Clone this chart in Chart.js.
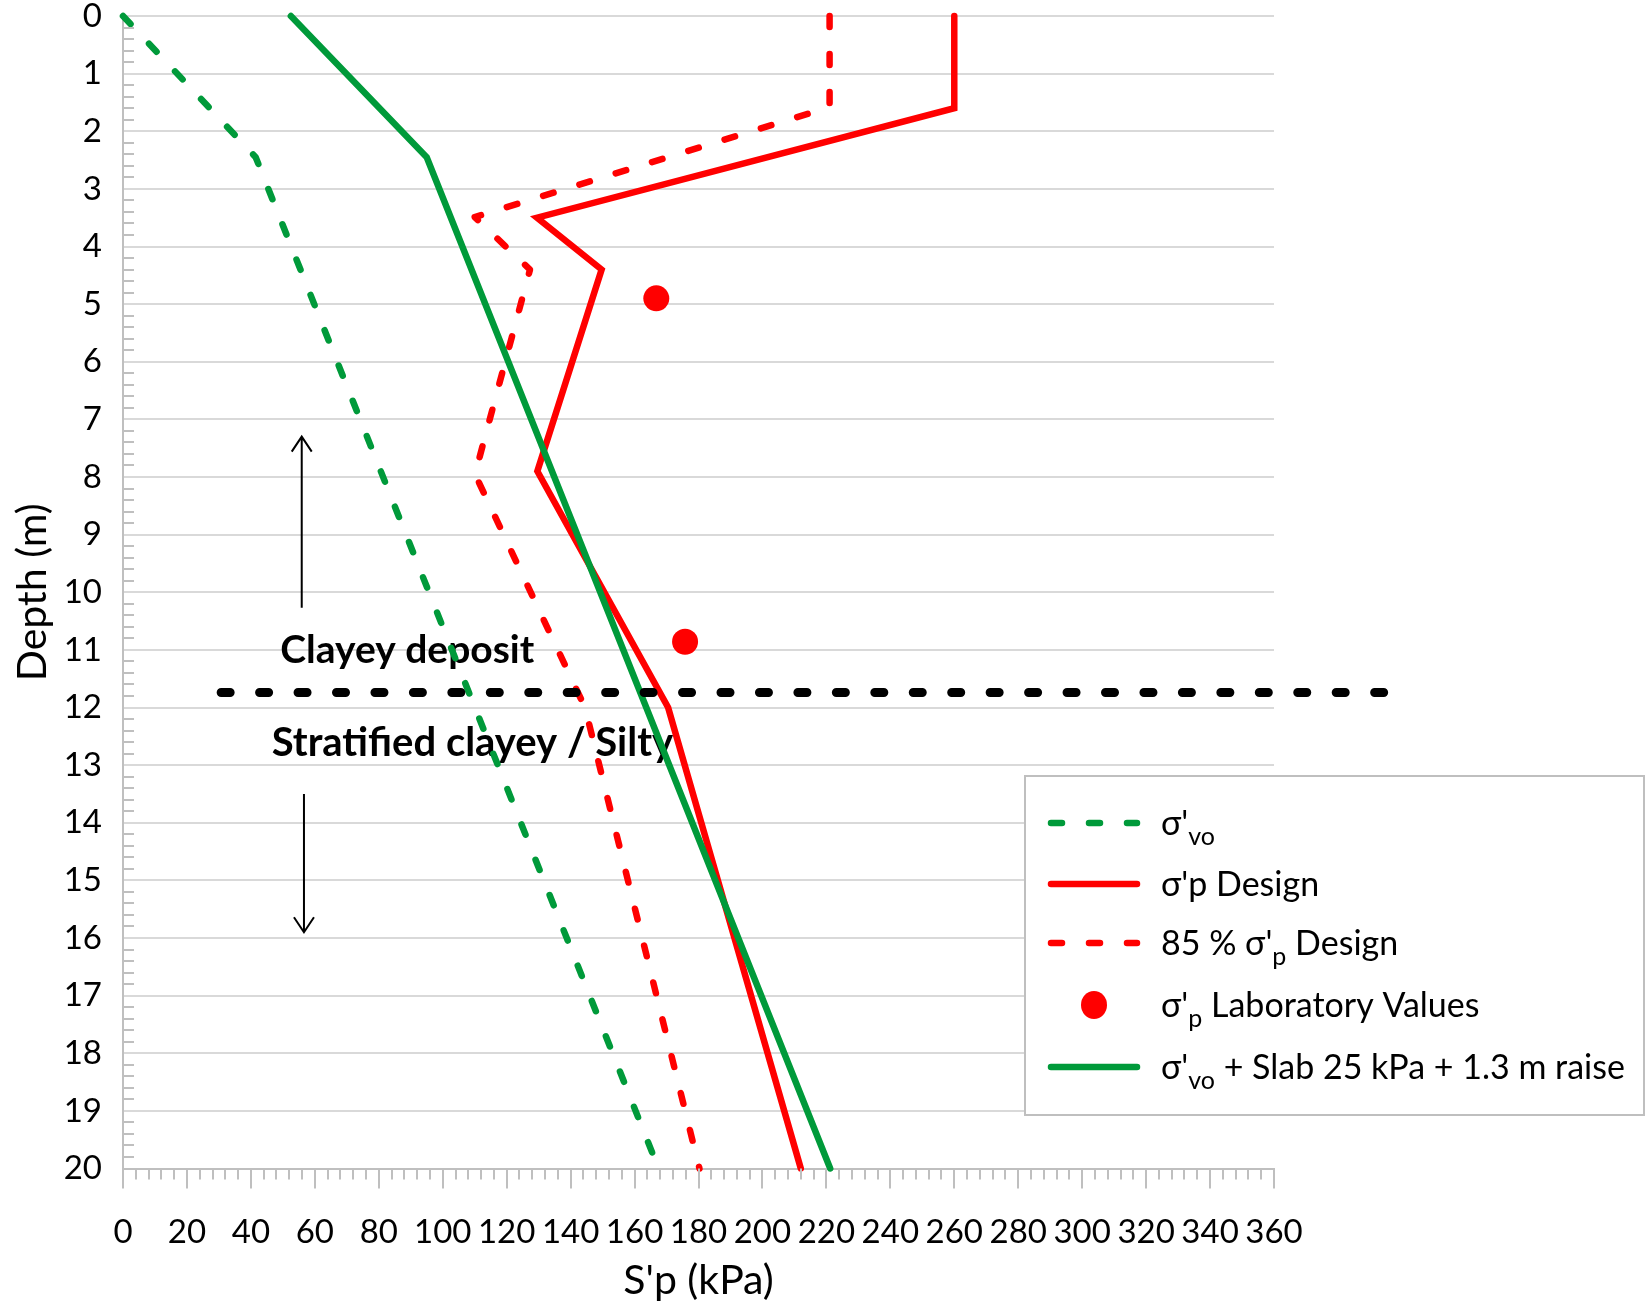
<!DOCTYPE html>
<html>
<head>
<meta charset="utf-8">
<script src="https://cdn.jsdelivr.net/npm/chart.js@4.4.1/dist/chart.umd.min.js"></script>
<style>
  html, body { margin: 0; padding: 0; background: #ffffff; }
  #wrap { position: relative; width: 1649px; height: 1303px; }
</style>
</head>
<body>
<div id="wrap"><canvas id="profile" width="1649" height="1303"></canvas></div>
<script>
// ---- Profile data: depth (m) against stress (kPa) ----
const effVertDepth   = [0, 2.45, 20];
const effVertStress  = [0, 41.5, 167.5];

const designDepth    = [0, 1.6, 3.5, 4.4, 7.9, 12, 20];
const designStress   = [260, 260, 129.5, 149.7, 129.6, 170.5, 212];

const design85Depth  = [0, 1.58, 3.49, 4.4, 7.95, 12, 20];
const design85Stress = [221, 221, 110, 127.3, 110.1, 144.5, 180.3];

const labDepth       = [4.9, 10.86];
const labStress      = [166.8, 175.8];

const loadedDepth    = [0, 2.45, 20];
const loadedStress   = [52.5, 95, 221.2];

// layer boundary between the clayey deposit and the stratified soils
const boundaryDepth  = [11.74, 11.74];
const boundaryStress = [30.7, 394.4];

// ---- Axis ticks ----
const xTickValues = [0, 20, 40, 60, 80, 100, 120, 140, 160, 180, 200, 220, 240, 260, 280, 300, 320, 340, 360];
const yTickValues = [0, 1, 2, 3, 4, 5, 6, 7, 8, 9, 10, 11, 12, 13, 14, 15, 16, 17, 18, 19, 20];

// ---- Layer annotations ----
const layerNames     = ['Clayey deposit', 'Stratified clayey / Silty'];
const layerNameX     = [88.9, 109.3];
const layerNameDepth = [11.22, 12.85];
const layerNameSize  = [39, 40];
const arrowX         = [55.9, 56.6];
const arrowFrom      = [10.27, 13.5];
const arrowTo        = [7.3, 15.9];

// ---- Legend entries (text runs: [text, isSubscript]) ----
const legendRuns = [
  [["σ'", 0], ["vo", 1]],
  [["σ'p Design", 0]],
  [["85 % σ'", 0], ["p", 1], [" Design", 0]],
  [["σ'", 0], ["p", 1], [" Laboratory Values", 0]],
  [["σ'", 0], ["vo", 1], [" + Slab 25 kPa + 1.3 m raise", 0]]
];

const GREEN = '#009A3A';
const RED = '#FF0000';
const FONT = 'Lato';
const LINE_W = 6.5;
const DASH = [11, 27];

const pts = (xs, ys) => xs.map((v, i) => ({ x: v, y: ys[i] }));

// minor tick marks along both axes (0.2 m and 4 kPa), major marks every 20 kPa
const minorTicks = {
  id: 'minorTicks',
  afterDraw(chart) {
    const { ctx, chartArea: a, scales: { x, y } } = chart;
    ctx.save();
    ctx.strokeStyle = '#BFBFBF';
    ctx.lineWidth = 2;
    ctx.beginPath();
    for (let i = 1; i < 100; i++) {
      if (i % 5 === 0) continue;
      const py = Math.round(y.getPixelForValue(i * 0.2));
      ctx.moveTo(a.left, py);
      ctx.lineTo(a.left + 11, py);
    }
    for (let i = 0; i <= 90; i++) {
      const px = Math.round(x.getPixelForValue(i * 4));
      const len = i % 5 === 0 ? 20 : 11;
      ctx.moveTo(px, a.bottom);
      ctx.lineTo(px, a.bottom + len);
    }
    ctx.stroke();
    ctx.restore();
  }
};

// soil layer names and extent arrows
const layerNotes = {
  id: 'layerNotes',
  beforeDatasetsDraw(chart) {
    const { ctx, scales: { x, y } } = chart;
    ctx.save();
    ctx.fillStyle = '#000';
    ctx.textAlign = 'center';
    ctx.textBaseline = 'alphabetic';
    layerNames.forEach((t, i) => {
      ctx.font = `bold ${layerNameSize[i]}px ${FONT}`;
      ctx.fillText(t, x.getPixelForValue(layerNameX[i]), y.getPixelForValue(layerNameDepth[i]));
    });
    ctx.strokeStyle = '#000';
    ctx.lineWidth = 2;
    arrowX.forEach((v, i) => {
      const px = x.getPixelForValue(v);
      const y0 = y.getPixelForValue(arrowFrom[i]);
      const y1 = y.getPixelForValue(arrowTo[i]);
      const dir = y1 < y0 ? 1 : -1;
      ctx.beginPath();
      ctx.moveTo(px, y0);
      ctx.lineTo(px, y1);
      ctx.moveTo(px - 10, y1 + dir * 15);
      ctx.lineTo(px, y1);
      ctx.lineTo(px + 10, y1 + dir * 15);
      ctx.stroke();
    });
    ctx.restore();
  }
};

// framed legend placed over the lower right of the plot
const sideLegend = {
  id: 'sideLegend',
  afterDraw(chart) {
    const { ctx } = chart;
    const box = { l: 1025, t: 776, r: 1644, b: 1115 };
    const rowY = [823, 884, 943, 1005, 1067];
    const swL = 1048, swR = 1140, textX = 1161;
    const styles = [
      { type: 'line', color: GREEN, dash: DASH },
      { type: 'line', color: RED, dash: [] },
      { type: 'line', color: RED, dash: DASH },
      { type: 'dot', color: RED },
      { type: 'line', color: GREEN, dash: [] }
    ];
    ctx.save();
    ctx.fillStyle = '#fff';
    ctx.fillRect(box.l, box.t, box.r - box.l, box.b - box.t);
    ctx.strokeStyle = '#BFBFBF';
    ctx.lineWidth = 2;
    ctx.strokeRect(box.l, box.t, box.r - box.l, box.b - box.t);
    styles.forEach((s, i) => {
      const yy = rowY[i];
      if (s.type === 'line') {
        ctx.strokeStyle = s.color;
        ctx.lineWidth = LINE_W;
        ctx.lineCap = 'round';
        ctx.setLineDash(s.dash);
        ctx.beginPath();
        ctx.moveTo(swL + 3, yy);
        ctx.lineTo(swR - 3, yy);
        ctx.stroke();
        ctx.setLineDash([]);
      } else {
        ctx.fillStyle = s.color;
        ctx.beginPath();
        ctx.ellipse((swL + swR) / 2, yy, 13, 14, 0, 0, Math.PI * 2);
        ctx.fill();
      }
      let cx = textX;
      ctx.fillStyle = '#000';
      ctx.textAlign = 'left';
      ctx.textBaseline = 'alphabetic';
      legendRuns[i].forEach(([txt, sub]) => {
        ctx.font = sub ? `25px ${FONT}` : `34px ${FONT}`;
        ctx.fillText(txt, cx, yy + 12 + (sub ? 10 : 0));
        cx += ctx.measureText(txt).width;
      });
    });
    ctx.restore();
  }
};

new Chart(document.getElementById('profile'), {
  type: 'scatter',
  data: {
    datasets: [
      {
        label: 'Layer boundary',
        data: pts(boundaryStress, boundaryDepth),
        showLine: true, borderColor: '#000', borderWidth: 9,
        borderDash: [9, 29.45], borderCapStyle: 'round',
        pointRadius: 0, clip: false, order: 0
      },
      {
        label: "σ'vo + Slab 25 kPa + 1.3 m raise",
        data: pts(loadedStress, loadedDepth),
        showLine: true, borderColor: GREEN, borderWidth: LINE_W,
        borderCapStyle: 'round', borderJoinStyle: 'miter',
        pointRadius: 0, clip: false, order: 1
      },
      {
        label: "σ'p Laboratory Values",
        data: pts(labStress, labDepth),
        showLine: false, backgroundColor: RED, borderWidth: 0,
        pointRadius: 13, pointStyle: 'circle', clip: false, order: 2
      },
      {
        label: "σ'p Design",
        data: pts(designStress, designDepth),
        showLine: true, borderColor: RED, borderWidth: LINE_W,
        borderCapStyle: 'round', borderJoinStyle: 'miter',
        pointRadius: 0, clip: false, order: 3
      },
      {
        label: "85 % σ'p Design",
        data: pts(design85Stress, design85Depth),
        showLine: true, borderColor: RED, borderWidth: LINE_W,
        borderDash: DASH, borderCapStyle: 'round', borderJoinStyle: 'round',
        pointRadius: 0, clip: false, order: 4
      },
      {
        label: "σ'vo",
        data: pts(effVertStress, effVertDepth),
        showLine: true, borderColor: GREEN, borderWidth: LINE_W,
        borderDash: DASH, borderCapStyle: 'round', borderJoinStyle: 'round',
        pointRadius: 0, clip: false, order: 5
      }
    ]
  },
  options: {
    responsive: false,
    animation: false,
    devicePixelRatio: 1,
    events: [],
    layout: { padding: { left: 0, top: 16, right: 375, bottom: 0 } },
    plugins: { legend: { display: false }, tooltip: { enabled: false } },
    scales: {
      x: {
        type: 'linear', position: 'bottom', min: 0, max: 360,
        afterBuildTicks: s => { s.ticks = xTickValues.map(v => ({ value: v })); },
        afterFit: s => { s.height = 134.5; s.paddingLeft = 0; s.paddingRight = 0; },
        grid: { display: false, drawTicks: false },
        border: { display: true, color: '#BFBFBF', width: 2 },
        ticks: { font: { family: FONT, size: 33 }, color: '#000', padding: 44, maxRotation: 0, autoSkip: false },
        title: { display: true, text: "S'p (kPa)", font: { family: FONT, size: 41, lineHeight: 1.1 }, color: '#000', padding: { top: 0, bottom: 0 } }
      },
      y: {
        type: 'linear', position: 'left', min: 0, max: 20, reverse: true,
        afterBuildTicks: s => { s.ticks = yTickValues.map(v => ({ value: v })); },
        afterFit: s => { s.width = 123; s.paddingTop = 0; s.paddingBottom = 0; },
        grid: { color: '#D9D9D9', lineWidth: 2, drawTicks: false },
        border: { display: true, color: '#BFBFBF', width: 2 },
        ticks: { font: { family: FONT, size: 33 }, color: '#000', padding: 21, autoSkip: false },
        title: { display: true, text: 'Depth (m)', font: { family: FONT, size: 41, lineHeight: 1.1 }, color: '#000', padding: { top: 10, bottom: 0 } }
      }
    }
  },
  plugins: [layerNotes, minorTicks, sideLegend]
});
</script>
</body>
</html>
